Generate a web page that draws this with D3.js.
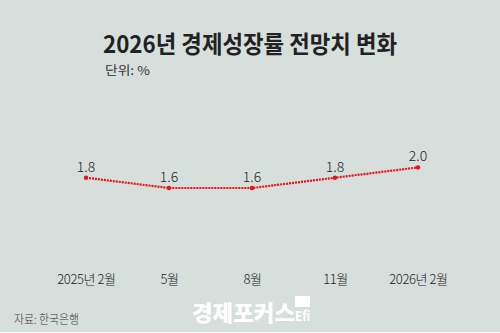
<!DOCTYPE html>
<html><head><meta charset="utf-8">
<script src="https://cdn.jsdelivr.net/npm/d3@7"></script>
<style>body{margin:0;background:#fff}svg{display:block}text{font-family:"Noto Sans CJK KR","Noto Sans",sans-serif}</style>
</head><body><div id="c"></div>
<script>
const categories = ["2025년 2월","5월","8월","11월","2026년 2월"];
const values = [1.8,1.6,1.6,1.8,2.0];
const valueLabels = ["1.8","1.6","1.6","1.8","2.0"];
const title = "2026년 경제성장률 전망치 변화";
const unit = "단위: %";
const source = "자료: 한국은행";

const W=500,H=333;
const svg=d3.select("#c").append("svg").attr("width",W).attr("height",H);
svg.append("rect").attr("width",W).attr("height",332).attr("fill","#d7dfdd");

const x=d3.scalePoint().domain(categories).range([86,418]);
const y=d3.scaleLinear().domain([0,2]).range([270.5,167.4]);

svg.append("text").attr("x",250).attr("y",53).attr("text-anchor","middle")
  .attr("font-size",24).attr("font-weight",700).attr("fill","#222")
  .attr("textLength",294).attr("lengthAdjust","spacingAndGlyphs").text(title);
svg.append("text").attr("x",105).attr("y",75).attr("font-size",12).attr("fill","#333")
  .attr("textLength",45).attr("lengthAdjust","spacingAndGlyphs").text(unit);

const line=d3.line().x((d,i)=>x(categories[i])).y(d=>y(d));
svg.append("path").datum(values).attr("d",line).attr("fill","none")
  .attr("stroke","#e8101a").attr("stroke-width",2.2).attr("stroke-dasharray","2,1");
svg.selectAll("circle.p").data(values).join("circle").attr("class","p")
  .attr("cx",(d,i)=>x(categories[i])).attr("cy",d=>y(d)).attr("r",2.2).attr("fill","#e8101a");
svg.selectAll("text.v").data(values).join("text").attr("class","v")
  .attr("x",(d,i)=>x(categories[i])).attr("y",d=>y(d)-6).attr("text-anchor","middle")
  .attr("font-size",14).attr("font-weight",300).attr("fill","#222").text((d,i)=>valueLabels[i]);

const ax=svg.append("g").attr("transform","translate(0,275)")
  .call(d3.axisBottom(x).tickSize(0).tickPadding(0));
ax.select(".domain").remove();
ax.selectAll("text").attr("font-size",13).attr("fill","#222").attr("dy","0.7em")
  .style("font-family",'"Noto Sans CJK KR",sans-serif').style("font-weight",300).style("letter-spacing","-0.4px");

svg.append("text").attr("x",14).attr("y",324).attr("font-size",12).attr("font-weight",300).attr("fill","#333")
  .attr("textLength",65).attr("lengthAdjust","spacingAndGlyphs").text(source);

// logo
svg.append("text").attr("x",192).attr("y",321).attr("font-size",22).attr("font-weight",900)
  .attr("fill","#fff").attr("textLength",103).attr("lengthAdjust","spacingAndGlyphs").text("경제포커스");
svg.append("rect").attr("x",295).attr("y",296).attr("width",15).attr("height",11).attr("fill","#fff");
svg.append("text").attr("x",295).attr("y",321).attr("font-size",13).attr("font-weight",700)
  .attr("fill","#fff").attr("textLength",15).attr("lengthAdjust","spacingAndGlyphs").text("Efi");
</script></body></html>
